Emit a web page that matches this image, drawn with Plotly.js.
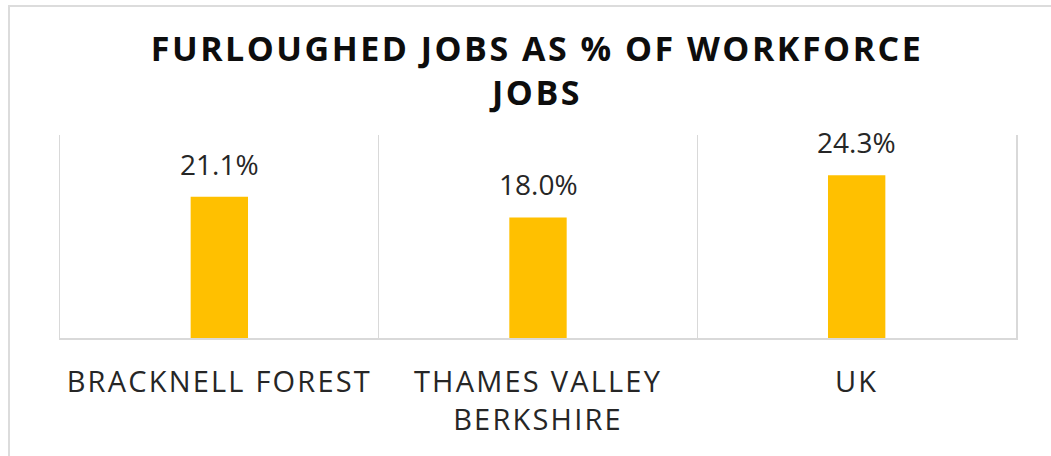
<!DOCTYPE html>
<html>
<head>
<meta charset="utf-8">
<script src="https://cdn.plot.ly/plotly-3.0.1.min.js"></script>
<style>
  html, body { margin: 0; padding: 0; background: #ffffff; }
  #wrap { position: relative; width: 1051px; height: 456px; }
  #chart { width: 1051px; height: 456px; }
  #frame { position: absolute; left: 8px; top: 5px; right: 0; bottom: 0;
           border-top: 2px solid #dcdcdc; border-left: 2px solid #dcdcdc; pointer-events: none; }
  .xtick text { letter-spacing: 2.2px; }
  .gtitle { letter-spacing: 2.5px; }
</style>
</head>
<body>
<div id="wrap">
  <div id="chart"></div>
  <div id="frame"></div>
</div>
<script>
const categories = ["BRACKNELL FOREST", "THAMES VALLEY<br>BERKSHIRE", "UK"];
const furloughedPct = [21.1, 18.0, 24.3];
const valueLabels = ["21.1%", "18.0%", "24.3%"];
const chartTitle = "FURLOUGHED JOBS AS % OF WORKFORCE<br>JOBS";

const trace = {
  type: "bar",
  x: categories,
  y: furloughedPct,
  width: 0.18,
  marker: { color: "#FFC000" },
  hoverinfo: "skip",
  showlegend: false
};

const annotations = categories.map((c, i) => ({
  x: c,
  y: furloughedPct[i],
  xref: "x",
  yref: "y",
  text: valueLabels[i],
  showarrow: false,
  yanchor: "bottom",
  yshift: 12,
  font: { family: "Open Sans, sans-serif", size: 28, color: "#262626" }
}));

const layout = {
  width: 1051,
  height: 456,
  paper_bgcolor: "#ffffff",
  plot_bgcolor: "#ffffff",
  margin: { l: 60, r: 35, t: 135, b: 118 },
  title: {
    text: chartTitle,
    font: { family: "Open Sans, sans-serif", size: 34, color: "#0d0d0d", weight: 700 },
    x: 0.511,
    xanchor: "center",
    y: 0.866,
    yanchor: "top",
    yref: "container"
  },
  xaxis: {
    type: "category",
    tickson: "boundaries",
    showgrid: true,
    gridcolor: "#d9d9d9",
    gridwidth: 1.5,
    showline: true,
    linecolor: "#d9d9d9",
    linewidth: 1.5,
    ticks: "",
    ticklabelstandoff: 18,
    tickfont: { family: "Open Sans, sans-serif", size: 29, color: "#262626" },
    fixedrange: true
  },
  yaxis: {
    range: [0, 30.3],
    visible: true,
    showticklabels: false,
    ticks: "",
    showgrid: false,
    zeroline: false,
    showline: true,
    mirror: true,
    linecolor: "#d9d9d9",
    linewidth: 1.5,
    fixedrange: true
  },
  annotations: annotations,
  bargap: 0.82
};

Plotly.newPlot("chart", [trace], layout, { displayModeBar: false, staticPlot: true });
</script>
</body>
</html>
